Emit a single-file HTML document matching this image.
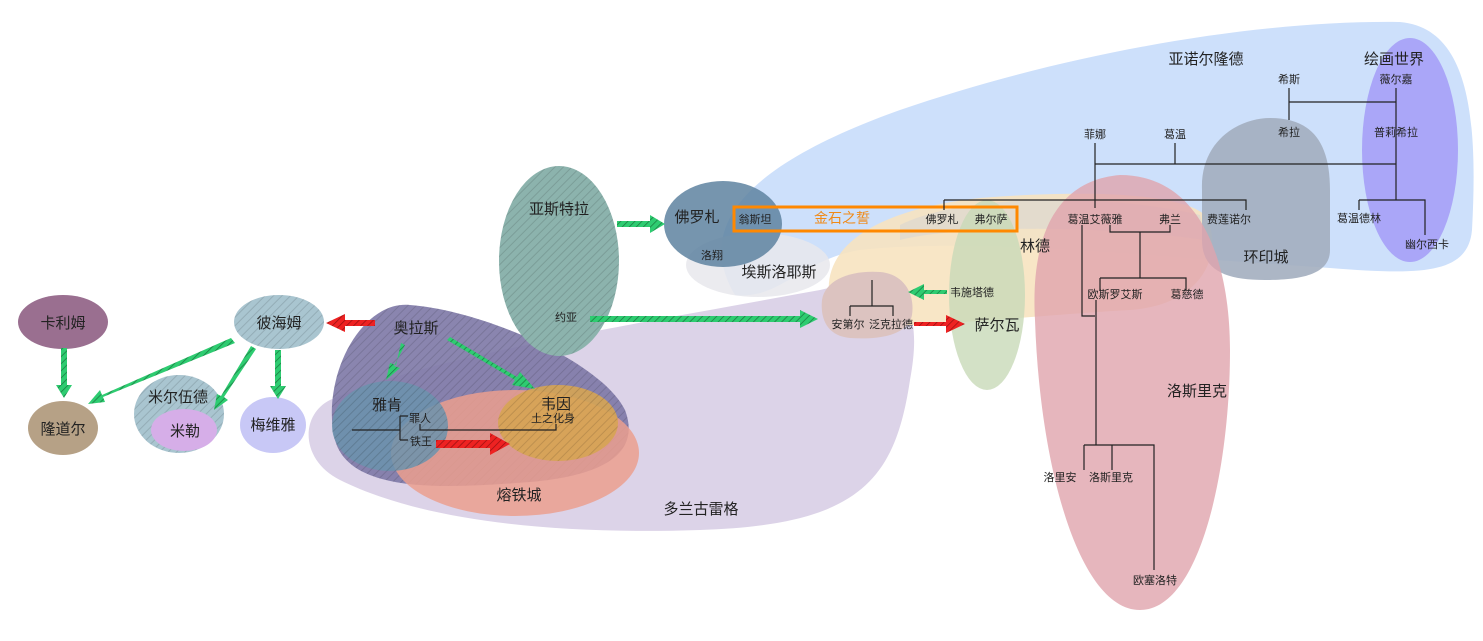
<!DOCTYPE html>
<html><head><meta charset="utf-8"><style>
html,body{margin:0;padding:0;background:#fff;}
svg{display:block;font-family:"Liberation Sans","Noto Sans CJK SC",sans-serif;}
</style></head><body>
<svg width="1483" height="641" viewBox="0 0 1483 641" xmlns="http://www.w3.org/2000/svg">
<defs>
<pattern id="h" width="6" height="6" patternUnits="userSpaceOnUse" patternTransform="rotate(45)">
<line x1="0" y1="0" x2="0" y2="6" stroke="#000" stroke-opacity="0.12" stroke-width="2"/></pattern>
<pattern id="g" width="5" height="5" patternUnits="userSpaceOnUse" patternTransform="rotate(45)">
<rect width="5" height="5" fill="#2ecc71"/><line x1="0" y1="0" x2="0" y2="5" stroke="#1a7a40" stroke-width="1.5"/></pattern>
<pattern id="r" width="5" height="5" patternUnits="userSpaceOnUse" patternTransform="rotate(45)">
<rect width="5" height="5" fill="#ee2222"/><line x1="0" y1="0" x2="0" y2="5" stroke="#991111" stroke-width="1.5"/></pattern>
</defs>

<!-- big blue -->
<path d="M735,295 C690,220 760,160 900,110 C1060,55 1250,20 1400,22 C1470,28 1478,120 1472,230 C1468,275 1420,275 1330,268 L1215,260 C1100,250 950,240 860,250 C800,260 780,300 735,295 Z" fill="#cde0fb"/>
<!-- 多兰古雷格 -->
<path d="M330,400 C420,360 600,330 820,290 C900,270 925,300 910,380 C895,480 860,525 700,530 C550,535 420,520 340,480 C300,460 300,415 330,400 Z" fill="#dcd3e8"/>
<!-- 林德 -->
<path d="M830,300 C820,250 870,210 980,198 C1080,190 1180,192 1205,215 C1225,250 1205,305 1130,310 C1040,315 900,330 850,325 C835,320 832,310 830,300 Z" fill="#f7e3c0" opacity="0.9"/>
<path d="M900,225 C960,195 1100,192 1200,215 L1205,240 C1100,225 960,225 900,240 Z" fill="#d8d6d2" opacity="0.6"/>
<!-- 环印城 -->
<path d="M1202,190 C1200,140 1240,118 1270,118 C1310,118 1330,140 1330,190 L1330,250 C1330,275 1300,280 1265,280 C1225,280 1202,270 1202,240 Z" fill="#a3aebf" opacity="0.9"/>
<!-- 绘画世界 -->
<ellipse cx="1410" cy="150" rx="48" ry="112" fill="#aaa6f8"/>
<!-- 萨尔瓦 -->
<ellipse cx="987" cy="295" rx="38" ry="95" fill="#c8d9b8" opacity="0.8"/>
<!-- 洛斯里克 -->
<path d="M1035,320 C1030,230 1060,180 1120,175 C1200,175 1230,260 1230,350 C1230,470 1200,610 1140,610 C1080,610 1040,470 1035,320 Z" fill="#e0a4ad" opacity="0.8"/>
<!-- 奥拉斯 -->
<path d="M335,440 C320,380 360,300 410,305 C480,310 600,360 625,410 C640,450 610,475 530,482 C450,488 350,495 335,440 Z" fill="#7d78a6" opacity="0.9"/>
<path d="M335,440 C320,380 360,300 410,305 C480,310 600,360 625,410 C640,450 610,475 530,482 C450,488 350,495 335,440 Z" fill="url(#h)"/>
<!-- 熔铁城 -->
<ellipse cx="515" cy="453" rx="124" ry="63" fill="#eb9f8e" opacity="0.85"/>
<!-- 雅肯 -->
<ellipse cx="390" cy="426" rx="58" ry="45" fill="#6b93ad" opacity="0.85"/>
<ellipse cx="390" cy="426" rx="58" ry="45" fill="url(#h)"/>
<!-- 韦因 -->
<ellipse cx="558" cy="423" rx="60" ry="38" fill="#d6a453" opacity="0.9"/>
<ellipse cx="558" cy="423" rx="60" ry="38" fill="url(#h)"/>
<!-- 亚斯特拉 -->
<ellipse cx="559" cy="261" rx="60" ry="95" fill="#8cb3ad"/>
<ellipse cx="559" cy="261" rx="60" ry="95" fill="url(#h)"/>
<!-- 埃斯洛耶斯 -->
<ellipse cx="758" cy="265" rx="72" ry="32" fill="#e8e8ec" opacity="0.85"/>
<!-- 佛罗札 -->
<ellipse cx="723" cy="224" rx="59" ry="43" fill="#5e82a0" opacity="0.85"/>
<!-- 安第尔 -->
<path d="M822,300 C825,280 850,270 880,272 C905,274 915,295 912,315 C908,335 880,340 850,338 C828,336 820,320 822,300 Z" fill="#dcc3c0"/>
<!-- left -->
<ellipse cx="63" cy="322" rx="45" ry="27" fill="#9a6f90"/>
<ellipse cx="279" cy="322" rx="45" ry="27" fill="#a9c5d0"/><ellipse cx="279" cy="322" rx="45" ry="27" fill="url(#h)"/>
<ellipse cx="63" cy="428" rx="35" ry="27" fill="#b6a186"/>
<ellipse cx="179" cy="414" rx="45" ry="39" fill="#a9c5d0"/><ellipse cx="179" cy="414" rx="45" ry="39" fill="url(#h)"/>
<ellipse cx="184" cy="430" rx="33" ry="21" fill="#d6aee8"/>
<ellipse cx="273" cy="425" rx="33" ry="28" fill="#c8c8f6"/>

<!-- 金石之誓 box -->
<rect x="734" y="207" width="283" height="24" fill="none" stroke="#ff8800" stroke-width="3"/>

<!-- tree lines -->
<g stroke="#222" stroke-width="1.2" fill="none">
<path d="M1289,88 V120 M1289,102 H1396 M1396,88 V200 M1095,143 V208 M1095,164 H1396 M1175,143 V164 M944,200 V210 M944,200 H1246 V210 M1359,200 V210 M1359,200 H1425 V235"/>
<path d="M1082,225 V316 H1095 M1110,225 V232 H1170 V225 M1140,232 V278 M1100,278 V290 M1100,278 H1186 V290 M1096,300 V445 M1084,445 V470 M1084,445 H1154 V570 M1112,445 V470"/>
<path d="M872,280 V306 M850,306 V316 M850,306 H893 V316"/>
<path d="M352,430 H400 M400,416 V440 M400,416 H408 M400,440 H408 M420,424 V430 H556 V424"/>
</g>

<!-- arrows -->
<g>
<polygon points="617,221 650,221 650,215 665,224 650,233 650,227 617,227" fill="url(#g)"/>
<polygon points="590,316 800,316 800,310 818,319 800,328 800,322 590,322" fill="url(#g)"/>
<polygon points="947,290 924,290 924,284 908,292 924,300 924,294 947,294" fill="url(#g)"/>
<polygon points="914,322 946,322 946,315 965,324 946,333 946,326 914,326" fill="url(#r)"/>
<polygon points="375,320 345,320 345,314 326,323 345,332 345,326 375,326" fill="url(#r)"/>
<polygon points="436,440 490,440 490,433 510,444 490,455 490,448 436,448" fill="url(#r)"/>
<polygon points="401,343 396,365 390,363 386,380 400,368 394,366 405,345" fill="url(#g)"/>
<polygon points="447,340 515,380 512,385 535,389 520,372 517,377 450,337" fill="url(#g)"/>
<polygon points="61,348 67,348 67,385 72,385 64,398 56,385 61,385" fill="url(#g)"/>
<polygon points="231,338 235,343 103,397 105,402 88,404 100,390 102,395" fill="url(#g)"/>
<polygon points="251,346 256,349 224,397 228,400 214,410 217,394 221,396" fill="url(#g)"/>
<polygon points="275,350 281,350 281,386 286,386 278,399 270,386 275,386" fill="url(#g)"/>
</g>

<!-- labels -->
<g font-size="15" fill="#222" text-anchor="middle">
<text x="1206" y="64">亚诺尔隆德</text>
<text x="1394" y="64">绘画世界</text>
<text x="1266" y="262">环印城</text>
<text x="1035" y="251">林德</text>
<text x="997" y="330">萨尔瓦</text>
<text x="1197" y="396">洛斯里克</text>
<text x="779" y="277">埃斯洛耶斯</text>
<text x="697" y="222">佛罗札</text>
<text x="559" y="214">亚斯特拉</text>
<text x="701" y="514">多兰古雷格</text>
<text x="519" y="500">熔铁城</text>
<text x="416" y="333">奥拉斯</text>
<text x="387" y="410">雅肯</text>
<text x="556" y="409">韦因</text>
<text x="63" y="328">卡利姆</text>
<text x="279" y="328">彼海姆</text>
<text x="63" y="434">隆道尔</text>
<text x="178" y="402">米尔伍德</text>
<text x="185" y="436">米勒</text>
<text x="273" y="430">梅维雅</text>
<text x="842" y="223" fill="#f08a18" font-size="14">金石之誓</text>
</g>
<g font-size="11" fill="#222" text-anchor="middle">
<text x="1289" y="83">希斯</text>
<text x="1396" y="83">薇尔嘉</text>
<text x="1095" y="138">菲娜</text>
<text x="1175" y="138">葛温</text>
<text x="1289" y="136">希拉</text>
<text x="1396" y="136">普莉希拉</text>
<text x="1359" y="222">葛温德林</text>
<text x="1427" y="248">幽尔西卡</text>
<text x="755" y="223">翁斯坦</text>
<text x="942" y="223">佛罗札</text>
<text x="991" y="223">弗尔萨</text>
<text x="1095" y="223">葛温艾薇雅</text>
<text x="1170" y="223">弗兰</text>
<text x="1229" y="223">费莲诺尔</text>
<text x="712" y="259">洛翔</text>
<text x="972" y="296">韦施塔德</text>
<text x="1115" y="298">欧斯罗艾斯</text>
<text x="1187" y="298">葛慈德</text>
<text x="848" y="328">安第尔</text>
<text x="891" y="328">泛克拉德</text>
<text x="566" y="321">约亚</text>
<text x="420" y="422">罪人</text>
<text x="421" y="445">铁王</text>
<text x="553" y="422">土之化身</text>
<text x="1060" y="481">洛里安</text>
<text x="1111" y="481">洛斯里克</text>
<text x="1155" y="584">欧塞洛特</text>
</g>
</svg>
</body></html>
